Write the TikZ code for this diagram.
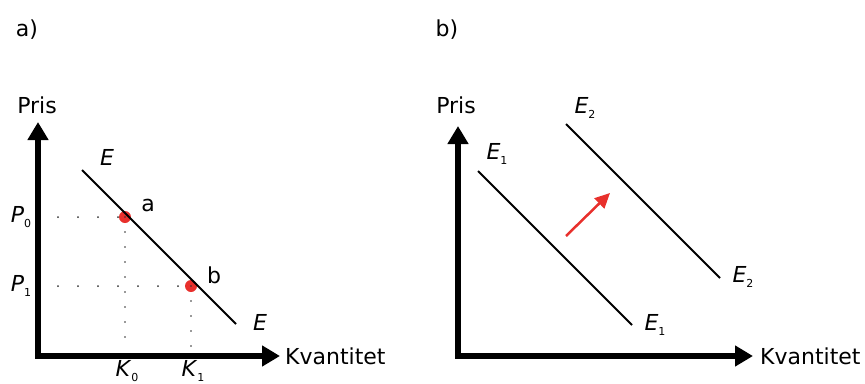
\documentclass[tikz,border=0pt]{standalone}
\usepackage{fontspec}
\setmainfont{DejaVu Sans}
\usetikzlibrary{arrows.meta}
\definecolor{redpt}{RGB}{232,48,44}
\newcommand{\Esub}[1]{\textit{E}\raisebox{-0.45ex}{\fontsize{11}{11}\selectfont #1}}
\newcommand{\Psub}[1]{\textit{P}\raisebox{-0.45ex}{\fontsize{11}{11}\selectfont #1}}
\newcommand{\Ksub}[1]{\textit{K}\raisebox{-0.45ex}{\fontsize{11}{11}\selectfont #1}}
\begin{document}
\begin{tikzpicture}[x=1pt,y=-1pt,
  lbl/.style={inner sep=0pt,font=\fontsize{22}{23}\selectfont},
  axis/.style={line width=5.5pt,-{Triangle[length=18pt,width=20pt]}},
  curve/.style={line width=1.9pt},
  pt/.style={circle,fill=redpt,draw=none,minimum size=12pt,inner sep=0pt},
  hdots/.style={line width=2pt,line cap=round,dash pattern=on 0pt off 20pt,black!80},
  vdots/.style={line width=1.7pt,line cap=round,dash pattern=on 0pt off 15pt,black!80},
  shiftarrow/.style={line width=2.5pt,draw=redpt,-{Triangle[length=15pt,width=14pt]}}]
\useasboundingbox (0,0) rectangle (865,383);
% titles
\node[lbl] (ta) at (27,30) {a)};
\node[lbl] (tb) at (447,30) {b)};
% panel a
\coordinate (Oa) at (38,356);
\coordinate (Ya) at (38,122);
\coordinate (Xa) at (280,356);
\draw[axis] ([yshift=2.75pt]Oa) -- (Ya);
\draw[axis] ([xshift=-2.75pt]Oa) -- (Xa);
\node[lbl] (prisa) at (37,105) {Pris};
\node[lbl,anchor=west] (kva) at (285,356) {Kvantitet};
\coordinate (Ea1) at (82,170);
\coordinate (Ea2) at (236,324);
\coordinate (P0c) at (58,217);
\coordinate (P1c) at (58,286);
\coordinate (K0c) at (125,347);
\coordinate (K1c) at (191,347);
\node[pt] (a) at (125,217) {};
\node[pt] (b) at (191,286) {};
\draw[hdots] (P0c) -- (a.center);
\draw[hdots] (P1c) -- (b.center);
\draw[vdots] (a.center) -- (K0c);
\draw[vdots] (b.center) -- (K1c);
\draw[curve] (Ea1) -- (Ea2);
\node[lbl] (ELa1) at (107,157) {\textit{E}};
\node[lbl] (ELa2) at (260,322) {\textit{E}};
\node[lbl] (la) at (148,205) {a};
\node[lbl] (lb) at (214,275) {b};
\node[lbl] (P0) at (21,217) {\Psub{0}};
\node[lbl] (P1) at (21,286) {\Psub{1}};
\node[lbl] (K0) at (127,371) {\Ksub{0}};
\node[lbl] (K1) at (193,371) {\Ksub{1}};
% panel b
\coordinate (Ob) at (458,356);
\coordinate (Yb) at (458,126);
\coordinate (Xb) at (753,356);
\draw[axis] ([yshift=2.75pt]Ob) -- (Yb);
\draw[axis] ([xshift=-2.75pt]Ob) -- (Xb);
\node[lbl] (prisb) at (456,105) {Pris};
\node[lbl,anchor=west] (kvb) at (760,356) {Kvantitet};
\coordinate (E1s) at (478,171);
\coordinate (E1e) at (632,325);
\coordinate (E2s) at (566,124);
\coordinate (E2e) at (720,278);
\draw[curve] (E1s) -- (E1e);
\draw[curve] (E2s) -- (E2e);
\node[lbl] (E1t) at (497,154) {\Esub{1}};
\node[lbl] (E1b) at (655,325) {\Esub{1}};
\node[lbl] (E2t) at (585,108) {\Esub{2}};
\node[lbl] (E2b) at (743,277) {\Esub{2}};
\coordinate (sh1) at (566,236);
\coordinate (sh2) at (610,193);
\draw[shiftarrow] (sh1) -- (sh2);
\end{tikzpicture}
\end{document}
